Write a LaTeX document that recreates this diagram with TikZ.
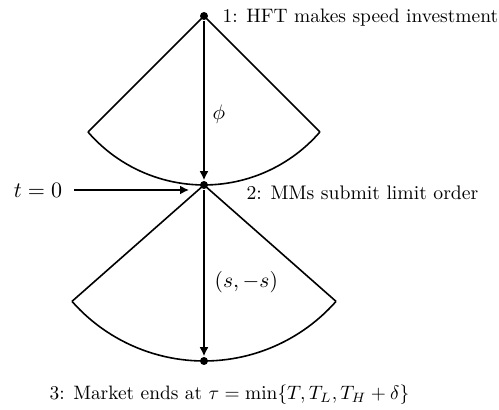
\documentclass[tikz,border=0pt]{standalone}
\usetikzlibrary{arrows.meta,calc}
\begin{document}
\begin{tikzpicture}[x=1pt,y=1pt,
  line width=1.6pt,
  dotnode/.style={circle,fill=black,inner sep=0pt,minimum size=8pt},
  arr/.style={-{Latex[length=9pt,width=9pt]}},
  lbl/.style={font=\fontsize{10}{12}\selectfont,inner sep=0pt,scale=#1,transform shape}]
\useasboundingbox (0,0) rectangle (499,410);
% event points
\node[dotnode] (A) at (204,394) {};
\node[dotnode] (B) at (204,225) {};
\node[dotnode] (C) at (204,49) {};
% upper sector
\coordinate (L1) at (88,278);
\coordinate (R1) at (320,278);
\draw[line join=round] (L1) -- (A.center) -- (R1);
\draw (L1) arc[start angle=220.9,end angle=319.1,radius=153.4pt];
% lower sector
\coordinate (L2) at ($(B.center)+(221.4:176pt)$);
\coordinate (R2) at ($(B.center)+(318.6:176pt)$);
\draw[line join=round] (L2) -- (B.center) -- (R2);
\draw (L2) arc[start angle=221.4,end angle=318.6,radius=176pt];
% time arrows
\draw[arr] (A) -- (B);
\draw[arr] (B) -- (C);
% labels
\node[lbl=1.945,anchor=base west] (l1) at (221,387) {1: HFT makes speed investment};
\node[lbl=1.965,anchor=base west] (l2) at (245,210) {2: MMs submit limit order};
\node[lbl=1.94,anchor=base west] (l3) at (48,10) {3: Market ends at $\tau=\min\{T,T_L,T_H+\delta\}$};
\node[lbl=2.2,anchor=base west] (t0) at (12,212) {$t=0$};
\coordinate (tip) at (189,220);
\draw[arr,shorten <=10pt] (t0.east |- tip) -- (tip);
\node[lbl=2.1,anchor=west] (phi) at (211,296) {$\phi$};
\node[lbl=2.15,anchor=west] (ss) at (213,128) {$(s,-s)$};
\end{tikzpicture}
\end{document}
